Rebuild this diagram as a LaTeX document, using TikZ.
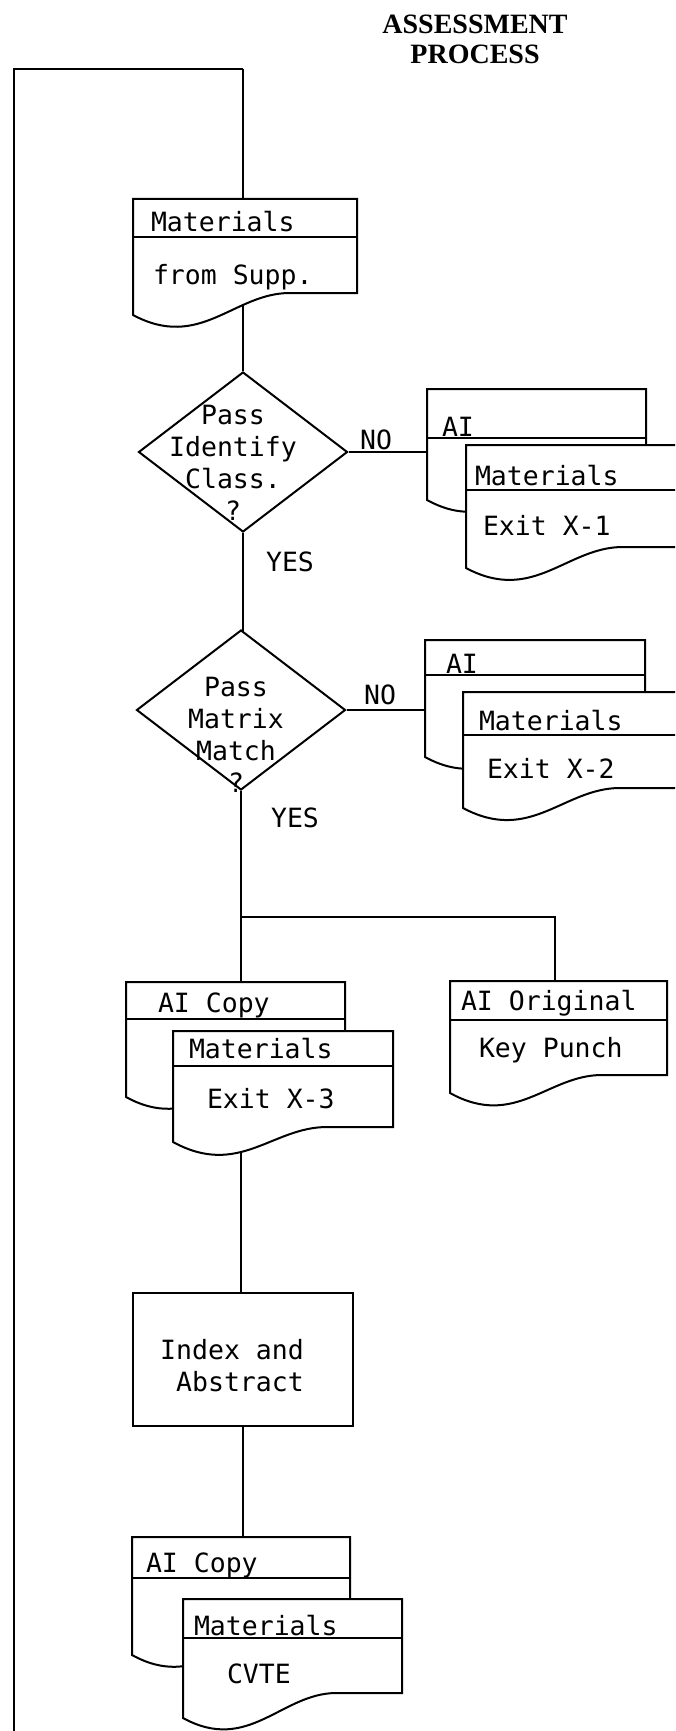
\documentclass[tikz,border=0pt]{standalone}
\usepackage{fontspec}
\setmainfont{Liberation Serif}
\setmonofont{DejaVu Sans Mono}
\usetikzlibrary{shapes.geometric,backgrounds}

% Belegsymbol: links, oben, rechts, Trennlinie, unten links, unten rechts
\newcommand{\docshape}[6]{%
  \draw[fill=white] (#1,#2) -- (#3,#2) -- (#3,#6) -- ({#1+0.7*(#3-#1)},#6)
    .. controls ({#1+0.45*(#3-#1)},#6) and ({#1+0.3*(#3-#1)},{#5+36}) .. (#1,#5) -- cycle;
  \draw (#1,#4) -- (#3,#4);
}

\begin{document}
\begin{tikzpicture}[x=1pt, y=-1pt, line width=2pt]
  \tikzstyle{dia} = [draw, fill=white, shape=diamond, inner sep=0pt, minimum width=209pt, minimum height=160pt]
  \tikzstyle{txt} = [inner sep=0pt, anchor=base west, font=\ttfamily\fontsize{26.5}{32}\selectfont]
  \tikzstyle{lbl} = [inner sep=0pt, font=\ttfamily\fontsize{26.5}{32}\selectfont]
  \tikzstyle{dtxt} = [inner sep=0pt, align=center, font=\ttfamily\fontsize{26.5}{32}\selectfont]
  \tikzstyle{conn} = [line width=2pt]
  \useasboundingbox (0,0) rectangle (675,1731);
  \clip (0,0) rectangle (675,1731);

  \node[align=center, font=\bfseries\fontsize{28}{30}\selectfont] (title) at (475,39) {ASSESSMENT\\PROCESS};

  % Eingang
  \docshape{133}{199}{357}{237}{315}{293}
  \node[txt] (supp) at (150,231) {Materials};
  \node[txt] (suppb) at (152,284) {from Supp.};

  % Pruefung 1
  \node[dia] (d1) at (243,452) {};
  \node[dtxt] (d1t) at (233,463) {Pass\\Identify\\Class.\\?};
  \node[lbl] (no1) at (376,440) {NO};
  \node[lbl] (yes1) at (290,562) {YES};
  \docshape{427}{389}{646}{438}{500}{478}
  \node[txt] (ai1) at (441,436) {AI};
  \docshape{466}{445}{690}{490}{568}{547}
  \node[txt] (mx1) at (474,485) {Materials};
  \node[txt] (mx1b) at (482,535) {Exit X-1};

  % Pruefung 2
  \node[dia] (d2) at (241,710) {};
  \node[dtxt] (d2t) at (236,735) {Pass\\Matrix\\Match\\?};
  \node[lbl] (no2) at (380,695) {NO};
  \node[lbl] (yes2) at (295,818) {YES};
  \docshape{425}{640}{645}{675}{757}{735}
  \node[txt] (ai2) at (445,673) {AI};
  \docshape{463}{692}{687}{735}{808}{788}
  \node[txt] (mx2) at (478,730) {Materials};
  \node[txt] (mx2b) at (486,778) {Exit X-2};

  % Ausgang 3
  \docshape{126}{982}{345}{1019}{1097}{1075}
  \node[txt] (aic1) at (157,1012) {AI Copy};
  \docshape{173}{1031}{393}{1066}{1142}{1127}
  \node[txt] (mx3) at (188,1058) {Materials};
  \node[txt] (mx3b) at (206,1108) {Exit X-3};
  \docshape{450}{981}{667}{1020}{1093}{1075}
  \node[txt] (aio) at (460,1010) {AI Original};
  \node[txt] (aiob) at (478,1057) {Key Punch};

  % Index
  \node[draw, fill=white, minimum width=220pt, minimum height=133pt] (idx) at (243,1359) {};
  \node[dtxt, align=right] (idxt) at (232,1366) {Index and\\Abstract};

  % Ausgang CVTE
  \docshape{132}{1537}{350}{1578}{1655}{1633}
  \node[txt] (aic2) at (145,1572) {AI Copy};
  \docshape{183}{1599}{402}{1638}{1718}{1693}
  \node[txt] (mx4) at (193,1635) {Materials};
  \node[txt] (mx4b) at (226,1683) {CVTE};

  % Verbindungen
  \coordinate (loopend) at (14,1731);
  \coordinate (loopcorner) at (243,69);
  \coordinate (split) at (241,917);
  \coordinate (aiotop) at (555,1000);
  \begin{pgfonlayer}{background}
    \draw[conn] (loopend) |- (loopcorner);
    \draw[conn] (loopcorner) -- (d1);
    \draw[conn] (d1) -- (d1 |- d2);
    \draw[conn] (d2) -- (d2 |- idx);
    \draw[conn] (idx) -- (idx |- mx4b);
    \draw[conn] (d1) -- (d1 -| ai1);
    \draw[conn] (d2) -- (d2 -| ai2);
    \draw[conn] (split) -| (aiotop);
  \end{pgfonlayer}
\end{tikzpicture}
\end{document}
